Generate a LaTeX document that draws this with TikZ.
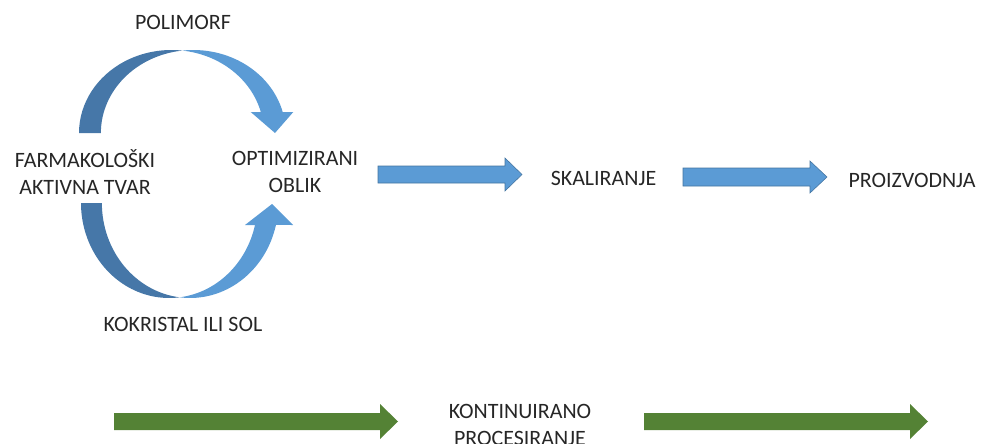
\documentclass[tikz,border=0pt]{standalone}
\usepackage{fontspec}
\setmainfont{Carlito}
\definecolor{arrowblue}{HTML}{5B9BD5}
\definecolor{arrowdark}{HTML}{4677A8}
\definecolor{arrowgreen}{HTML}{548235}
\begin{document}
\begin{tikzpicture}[x=0.025cm,y=0.025cm,
        lbl/.style={text=black!85,align=center,inner sep=0pt,
            font=\fontsize{15.6}{19.5}\selectfont},
        lightpart/.style={fill=arrowblue},
        darkpart/.style={fill=arrowdark},
        bluearrow/.style={fill=arrowblue,draw=arrowblue!75!black,line width=0.4pt},
        greenarrow/.style={fill=arrowgreen}]
        \useasboundingbox (0,0) rectangle (981,443);
        % upper curved arrow
        \fill[darkpart] (79,310) arc[start angle=180,end angle=83.2,x radius=92.4,y radius=83]
            arc[start angle=96.8,end angle=180,x radius=92.4,y radius=83] -- cycle;
        \fill[lightpart] (182.4,392.4) arc[start angle=96.8,end angle=14.66,x radius=92.4,y radius=83]
            -- (293.3,331) -- (275,310) -- (250.7,331) -- (260.8,331)
            arc[start angle=14.66,end angle=83.2,x radius=92.4,y radius=83] -- cycle;
        % lower curved arrow
        \fill[darkpart] (81,240) arc[start angle=180,end angle=276.8,x radius=88.2,y radius=95]
            arc[start angle=263.2,end angle=180,x radius=88.2,y radius=95] -- cycle;
        \fill[lightpart] (179.7,145.7) arc[start angle=263.2,end angle=346.6,x radius=88.2,y radius=95]
            -- (293,218) -- (272,239) -- (245,218) -- (255,218)
            arc[start angle=346.6,end angle=276.8,x radius=88.2,y radius=95] -- cycle;
        % straight arrows
        \filldraw[bluearrow] (378,260) -- (505,260) -- (505,252) -- (522,268.5)
            -- (505,285) -- (505,277) -- (378,277) -- cycle;
        \filldraw[bluearrow] (683,257) -- (810,257) -- (810,250) -- (827,266)
            -- (810,282) -- (810,275) -- (683,275) -- cycle;
        \fill[greenarrow] (114,13) -- (380,13) -- (380,4) -- (398,21.5)
            -- (380,39) -- (380,30) -- (114,30) -- cycle;
        \fill[greenarrow] (644,13) -- (910,13) -- (910,4) -- (928,21.5)
            -- (910,39) -- (910,30) -- (644,30) -- cycle;
        % labels
        \node[lbl] (polimorf) at (183,421) {POLIMORF};
        \node[lbl] (tvar) at (85,271) {FARMAKOLOŠKI\\AKTIVNA TVAR};
        \node[lbl] (oblik) at (295,271) {OPTIMIZIRANI\\OBLIK};
        \node[lbl] (kokristal) at (183,119) {KOKRISTAL ILI SOL};
        \node[lbl] (skaliranje) at (603.5,265) {SKALIRANJE};
        \node[lbl] (proizvodnja) at (912,263) {PROIZVODNJA};
        \node[lbl] (kontinuirano) at (520,18) {KONTINUIRANO\\PROCESIRANJE};
    \end{tikzpicture}
\end{document}
